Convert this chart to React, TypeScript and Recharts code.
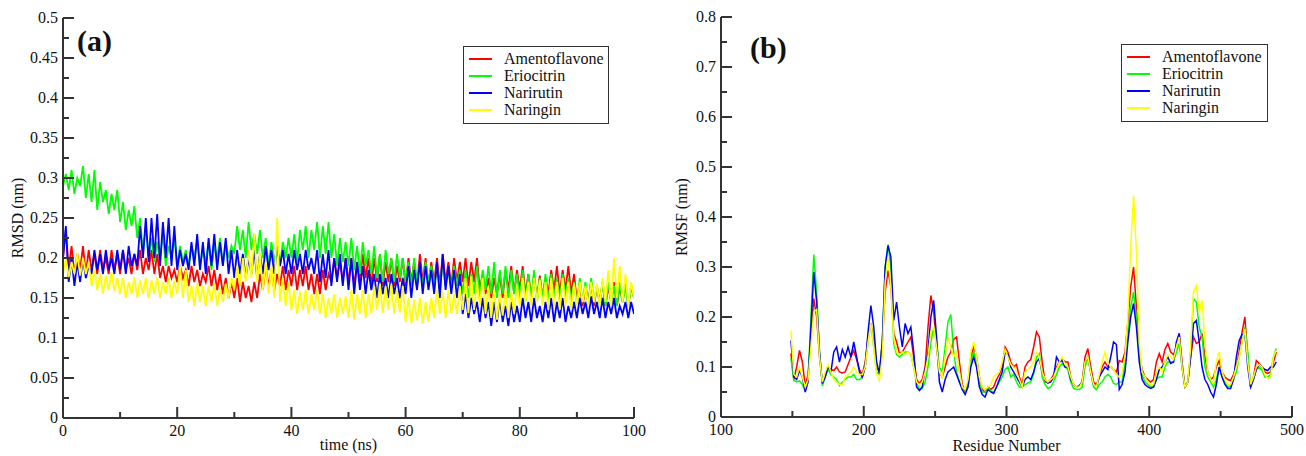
import React from 'react';
import { LineChart, Line, XAxis, YAxis, Legend, Label } from 'recharts';

const FONT = '"Liberation Serif", "Times New Roman", serif';
const AXIS = '#333';
const TEXT = '#111';

const seriesNames = ['Amentoflavone', 'Eriocitrin', 'Narirutin', 'Naringin'];
const seriesColors = ['#ff0000', '#00ff00', '#0000ff', '#ffff00'];
const seriesKeys = ['amento', 'erio', 'nari', 'naring'];

// ---------- Panel (a): RMSD vs time ----------
const timeNs = [
  0, 0.5, 1, 1.5, 2, 2.5, 3, 3.5, 4, 4.5,
  5, 5.5, 6, 6.5, 7, 7.5, 8, 8.5, 9, 9.5,
  10, 10.5, 11, 11.5, 12, 12.5, 13, 13.5, 14, 14.5,
  15, 15.5, 16, 16.5, 17, 17.5, 18, 18.5, 19, 19.5,
  20, 20.5, 21, 21.5, 22, 22.5, 23, 23.5, 24, 24.5,
  25, 25.5, 26, 26.5, 27, 27.5, 28, 28.5, 29, 29.5,
  30, 30.5, 31, 31.5, 32, 32.5, 33, 33.5, 34, 34.5,
  35, 35.5, 36, 36.5, 37, 37.5, 38, 38.5, 39, 39.5,
  40, 40.5, 41, 41.5, 42, 42.5, 43, 43.5, 44, 44.5,
  45, 45.5, 46, 46.5, 47, 47.5, 48, 48.5, 49, 49.5,
  50, 50.5, 51, 51.5, 52, 52.5, 53, 53.5, 54, 54.5,
  55, 55.5, 56, 56.5, 57, 57.5, 58, 58.5, 59, 59.5,
  60, 60.5, 61, 61.5, 62, 62.5, 63, 63.5, 64, 64.5,
  65, 65.5, 66, 66.5, 67, 67.5, 68, 68.5, 69, 69.5,
  70, 70.5, 71, 71.5, 72, 72.5, 73, 73.5, 74, 74.5,
  75, 75.5, 76, 76.5, 77, 77.5, 78, 78.5, 79, 79.5,
  80, 80.5, 81, 81.5, 82, 82.5, 83, 83.5, 84, 84.5,
  85, 85.5, 86, 86.5, 87, 87.5, 88, 88.5, 89, 89.5,
  90, 90.5, 91, 91.5, 92, 92.5, 93, 93.5, 94, 94.5,
  95, 95.5, 96, 96.5, 97, 97.5, 98, 98.5, 99, 99.5,
  100,
];

const rmsdAmentoflavone = [
  0.2, 0.235, 0.185, 0.215, 0.18, 0.205, 0.185, 0.215, 0.18, 0.21,
  0.185, 0.205, 0.18, 0.21, 0.185, 0.2, 0.18, 0.21, 0.185, 0.205,
  0.18, 0.21, 0.185, 0.2, 0.18, 0.205, 0.185, 0.21, 0.18, 0.2,
  0.185, 0.21, 0.18, 0.205, 0.175, 0.19, 0.17, 0.19, 0.175, 0.185,
  0.17, 0.19, 0.175, 0.185, 0.165, 0.19, 0.17, 0.185, 0.165, 0.18,
  0.17, 0.19, 0.165, 0.185, 0.16, 0.18, 0.155, 0.175, 0.15, 0.17,
  0.15, 0.175, 0.145, 0.17, 0.15, 0.165, 0.145, 0.17, 0.15, 0.18,
  0.16, 0.19, 0.165, 0.185, 0.16, 0.18, 0.165, 0.19, 0.16, 0.185,
  0.165, 0.19, 0.16, 0.185, 0.165, 0.19, 0.16, 0.18, 0.155, 0.18,
  0.155, 0.185, 0.16, 0.18, 0.17, 0.2, 0.175, 0.195, 0.17, 0.2,
  0.17, 0.2, 0.165, 0.195, 0.17, 0.205, 0.175, 0.2, 0.165, 0.2,
  0.17, 0.205, 0.165, 0.195, 0.17, 0.2, 0.165, 0.19, 0.17, 0.2,
  0.165, 0.2, 0.17, 0.195, 0.165, 0.205, 0.17, 0.2, 0.165, 0.195,
  0.17, 0.2, 0.165, 0.205, 0.17, 0.195, 0.165, 0.2, 0.17, 0.195,
  0.17, 0.2, 0.165, 0.195, 0.17, 0.2, 0.16, 0.18, 0.155, 0.175,
  0.15, 0.175, 0.155, 0.18, 0.15, 0.185, 0.16, 0.19, 0.155, 0.185,
  0.16, 0.19, 0.155, 0.18, 0.15, 0.175, 0.148, 0.178, 0.15, 0.175,
  0.155, 0.185, 0.16, 0.19, 0.155, 0.185, 0.16, 0.19, 0.155, 0.18,
  0.145, 0.17, 0.14, 0.165, 0.145, 0.17, 0.14, 0.165, 0.145, 0.17,
  0.14, 0.165, 0.145, 0.17, 0.14, 0.165, 0.145, 0.17, 0.14, 0.165,
  0.15,
];

const rmsdEriocitrin = [
  0.29, 0.305, 0.285, 0.31, 0.28, 0.3, 0.29, 0.315, 0.275, 0.305,
  0.27, 0.31, 0.26, 0.295, 0.27, 0.285, 0.255, 0.28, 0.26, 0.285,
  0.245, 0.27, 0.235, 0.26, 0.24, 0.265, 0.225, 0.25, 0.205, 0.24,
  0.2, 0.225, 0.195, 0.22, 0.2, 0.23, 0.19, 0.215, 0.2, 0.225,
  0.19, 0.215, 0.195, 0.21, 0.19, 0.215, 0.2, 0.22, 0.19, 0.21,
  0.195, 0.22, 0.185, 0.215, 0.2, 0.225, 0.19, 0.22, 0.2, 0.215,
  0.205, 0.24, 0.21, 0.235, 0.2, 0.245, 0.21, 0.23, 0.205, 0.235,
  0.2, 0.225, 0.19, 0.22, 0.195, 0.215, 0.19, 0.22, 0.2, 0.225,
  0.2, 0.23, 0.195, 0.235, 0.21, 0.24, 0.2, 0.235, 0.21, 0.245,
  0.2, 0.24, 0.205, 0.245, 0.2, 0.23, 0.19, 0.225, 0.195, 0.22,
  0.19, 0.225, 0.185, 0.215, 0.18, 0.22, 0.19, 0.21, 0.18, 0.215,
  0.175, 0.205, 0.17, 0.21, 0.18, 0.2, 0.17, 0.205, 0.175, 0.2,
  0.17, 0.195, 0.165, 0.2, 0.17, 0.19, 0.165, 0.195, 0.17, 0.19,
  0.165, 0.19, 0.16, 0.195, 0.165, 0.185, 0.16, 0.19, 0.165, 0.185,
  0.155, 0.185, 0.15, 0.18, 0.155, 0.19, 0.15, 0.185, 0.16, 0.19,
  0.155, 0.195, 0.15, 0.185, 0.155, 0.19, 0.15, 0.185, 0.155, 0.18,
  0.15, 0.185, 0.145, 0.18, 0.15, 0.185, 0.145, 0.175, 0.15, 0.18,
  0.145, 0.18, 0.15, 0.175, 0.145, 0.18, 0.15, 0.175, 0.145, 0.17,
  0.14, 0.175, 0.145, 0.17, 0.14, 0.175, 0.145, 0.165, 0.14, 0.17,
  0.14, 0.17, 0.145, 0.165, 0.14, 0.17, 0.145, 0.165, 0.14, 0.165,
  0.15,
];

const rmsdNarirutin = [
  0.2, 0.24, 0.17, 0.2, 0.165, 0.195, 0.17, 0.2, 0.175, 0.19,
  0.18, 0.21, 0.185, 0.205, 0.18, 0.21, 0.185, 0.2, 0.18, 0.21,
  0.185, 0.21, 0.18, 0.215, 0.19, 0.205, 0.19, 0.24, 0.2, 0.25,
  0.195, 0.25, 0.2, 0.255, 0.19, 0.245, 0.2, 0.25, 0.19, 0.24,
  0.185, 0.21, 0.19, 0.205, 0.185, 0.22, 0.19, 0.23, 0.185, 0.22,
  0.18, 0.225, 0.19, 0.23, 0.185, 0.22, 0.19, 0.225, 0.18, 0.21,
  0.175, 0.21, 0.18, 0.205, 0.175, 0.2, 0.18, 0.21, 0.175, 0.205,
  0.18, 0.215, 0.185, 0.21, 0.18, 0.215, 0.19, 0.21, 0.18, 0.205,
  0.18, 0.21, 0.185, 0.205, 0.18, 0.21, 0.185, 0.2, 0.18, 0.21,
  0.17, 0.205, 0.175, 0.21, 0.165, 0.2, 0.17, 0.205, 0.165, 0.2,
  0.16, 0.2, 0.155, 0.195, 0.16, 0.19, 0.155, 0.185, 0.16, 0.18,
  0.15, 0.18, 0.155, 0.175, 0.15, 0.18, 0.155, 0.175, 0.15, 0.175,
  0.155, 0.19, 0.15, 0.185, 0.16, 0.195, 0.155, 0.19, 0.16, 0.185,
  0.155, 0.195, 0.15, 0.205, 0.16, 0.19, 0.155, 0.185, 0.15, 0.18,
  0.13, 0.155, 0.125, 0.15, 0.13, 0.145, 0.12, 0.15, 0.125, 0.145,
  0.115, 0.145, 0.12, 0.15, 0.12, 0.14, 0.115, 0.145, 0.12, 0.14,
  0.12, 0.15, 0.125, 0.145, 0.12, 0.15, 0.125, 0.14, 0.12, 0.145,
  0.125, 0.15, 0.12, 0.145, 0.125, 0.15, 0.12, 0.14, 0.125, 0.145,
  0.125, 0.15, 0.13, 0.145, 0.125, 0.152, 0.13, 0.145, 0.125, 0.15,
  0.125, 0.145, 0.13, 0.15, 0.125, 0.14, 0.13, 0.145, 0.125, 0.145,
  0.13,
];

const rmsdNaringin = [
  0.18, 0.2, 0.176, 0.195, 0.18, 0.205, 0.178, 0.2, 0.18, 0.195,
  0.165, 0.185, 0.16, 0.18, 0.156, 0.178, 0.16, 0.182, 0.158, 0.175,
  0.155, 0.175, 0.15, 0.17, 0.155, 0.176, 0.15, 0.172, 0.155, 0.175,
  0.15, 0.172, 0.155, 0.176, 0.15, 0.17, 0.155, 0.175, 0.15, 0.172,
  0.155, 0.19, 0.15, 0.185, 0.145, 0.165, 0.14, 0.168, 0.145, 0.165,
  0.14, 0.165, 0.145, 0.168, 0.14, 0.162, 0.145, 0.168, 0.15, 0.175,
  0.16, 0.19, 0.165, 0.2, 0.17, 0.21, 0.175, 0.23, 0.17, 0.205,
  0.16, 0.195, 0.155, 0.19, 0.15, 0.25, 0.145, 0.175, 0.14, 0.17,
  0.135, 0.16, 0.13, 0.158, 0.135, 0.16, 0.13, 0.155, 0.135, 0.16,
  0.13, 0.155, 0.125, 0.15, 0.13, 0.155, 0.125, 0.15, 0.13, 0.152,
  0.125, 0.16, 0.123, 0.155, 0.13, 0.16, 0.125, 0.155, 0.13, 0.165,
  0.135, 0.168, 0.131, 0.165, 0.135, 0.168, 0.13, 0.16, 0.132, 0.165,
  0.12, 0.15, 0.118, 0.148, 0.122, 0.15, 0.118, 0.145, 0.12, 0.15,
  0.125, 0.16, 0.13, 0.158, 0.125, 0.16, 0.13, 0.155, 0.13, 0.165,
  0.135, 0.175, 0.131, 0.177, 0.135, 0.17, 0.14, 0.175, 0.13, 0.165,
  0.125, 0.16, 0.123, 0.155, 0.128, 0.16, 0.125, 0.158, 0.13, 0.165,
  0.14, 0.175, 0.145, 0.17, 0.14, 0.175, 0.145, 0.172, 0.14, 0.17,
  0.135, 0.175, 0.14, 0.17, 0.135, 0.175, 0.14, 0.17, 0.135, 0.168,
  0.14, 0.17, 0.145, 0.165, 0.14, 0.17, 0.145, 0.168, 0.14, 0.175,
  0.145, 0.185, 0.14, 0.2, 0.15, 0.19, 0.145, 0.18, 0.14, 0.17,
  0.15,
];

// ---------- Panel (b): RMSF vs residue ----------
const residueNumber = [
  149, 151, 153, 155, 157, 159, 161, 163, 165, 167,
  169, 171, 173, 175, 177, 179, 181, 183, 185, 187,
  189, 191, 193, 195, 197, 199, 201, 203, 205, 207,
  209, 211, 213, 215, 217, 219, 221, 223, 225, 227,
  229, 231, 233, 235, 237, 239, 241, 243, 245, 247,
  249, 251, 253, 255, 257, 259, 261, 263, 265, 267,
  269, 271, 273, 275, 277, 279, 281, 283, 285, 287,
  289, 291, 293, 295, 297, 299, 301, 303, 305, 307,
  309, 311, 313, 315, 317, 319, 321, 323, 325, 327,
  329, 331, 333, 335, 337, 339, 341, 343, 345, 347,
  349, 351, 353, 355, 357, 359, 361, 363, 365, 367,
  369, 371, 373, 375, 377, 379, 381, 383, 385, 387,
  389, 391, 393, 395, 397, 399, 401, 403, 405, 407,
  409, 411, 413, 415, 417, 419, 421, 423, 425, 427,
  429, 431, 433, 435, 437, 439, 441, 443, 445, 447,
  449, 451, 453, 455, 457, 459, 461, 463, 465, 467,
  469, 471, 473, 475, 477, 479, 481, 483, 485, 487,
  489,
];

const rmsfAmentoflavone = [
  0.127, 0.075, 0.1, 0.133, 0.11, 0.062, 0.085, 0.16, 0.237, 0.2,
  0.12, 0.068, 0.085, 0.1, 0.095, 0.093, 0.1, 0.09, 0.088, 0.09,
  0.105, 0.12, 0.133, 0.115, 0.095, 0.085, 0.11, 0.16, 0.187, 0.15,
  0.1, 0.09, 0.15, 0.25, 0.293, 0.26, 0.167, 0.15, 0.127, 0.13,
  0.14, 0.15, 0.16, 0.12, 0.075, 0.067, 0.075, 0.1, 0.18, 0.243,
  0.21, 0.14, 0.09, 0.08, 0.1, 0.12, 0.13, 0.155, 0.16, 0.11,
  0.065, 0.05, 0.07, 0.12, 0.14, 0.12, 0.08, 0.055, 0.05, 0.06,
  0.055, 0.06, 0.075, 0.085, 0.1, 0.14, 0.13, 0.11, 0.1, 0.105,
  0.08, 0.065, 0.1, 0.11, 0.115, 0.14, 0.17, 0.16, 0.11, 0.07,
  0.07, 0.075, 0.085, 0.1, 0.11, 0.117, 0.11, 0.11, 0.08, 0.065,
  0.06, 0.062, 0.07, 0.12, 0.137, 0.1, 0.07, 0.065, 0.08, 0.1,
  0.11, 0.1, 0.1, 0.095, 0.09, 0.113, 0.11, 0.13, 0.19, 0.26,
  0.3, 0.22, 0.13, 0.095, 0.08, 0.075, 0.07, 0.075, 0.11, 0.127,
  0.11, 0.135, 0.147, 0.13, 0.125, 0.14, 0.167, 0.11, 0.06, 0.07,
  0.12, 0.16, 0.147, 0.15, 0.167, 0.12, 0.09, 0.075, 0.08, 0.1,
  0.113, 0.09, 0.08, 0.075, 0.073, 0.085, 0.1, 0.13, 0.17, 0.2,
  0.12, 0.06, 0.08, 0.113, 0.107, 0.1, 0.09, 0.087, 0.09, 0.11,
  0.13,
];

const rmsfEriocitrin = [
  0.117, 0.073, 0.07, 0.072, 0.065, 0.053, 0.075, 0.2, 0.325, 0.25,
  0.13, 0.062, 0.08, 0.095, 0.085, 0.08, 0.075, 0.063, 0.07, 0.075,
  0.08, 0.08, 0.085, 0.075, 0.075, 0.08, 0.1, 0.15, 0.185, 0.14,
  0.09, 0.085, 0.15, 0.3, 0.345, 0.3, 0.147, 0.125, 0.12, 0.125,
  0.13, 0.13, 0.125, 0.1, 0.07, 0.055, 0.057, 0.07, 0.1, 0.15,
  0.18, 0.15, 0.1, 0.09, 0.14, 0.19, 0.205, 0.13, 0.09, 0.07,
  0.055, 0.05, 0.06, 0.11, 0.13, 0.11, 0.07, 0.05, 0.05, 0.06,
  0.052, 0.05, 0.06, 0.07, 0.08, 0.095, 0.1, 0.08, 0.085, 0.07,
  0.06, 0.06, 0.065, 0.068, 0.07, 0.085, 0.12, 0.127, 0.08, 0.065,
  0.057, 0.06, 0.07, 0.085, 0.1, 0.107, 0.1, 0.095, 0.07, 0.057,
  0.055, 0.055, 0.06, 0.1, 0.12, 0.09, 0.06, 0.055, 0.065, 0.07,
  0.08, 0.085, 0.08, 0.067, 0.065, 0.07, 0.07, 0.11, 0.16, 0.22,
  0.25, 0.2, 0.12, 0.085, 0.07, 0.065, 0.06, 0.06, 0.075, 0.08,
  0.08, 0.1, 0.11, 0.11, 0.11, 0.13, 0.147, 0.1, 0.06, 0.07,
  0.13, 0.237, 0.23, 0.18, 0.16, 0.1, 0.08, 0.07, 0.06, 0.075,
  0.1, 0.08, 0.07, 0.06, 0.062, 0.075, 0.09, 0.12, 0.15, 0.18,
  0.13, 0.06, 0.075, 0.095, 0.1, 0.093, 0.08, 0.08, 0.085, 0.12,
  0.137,
];

const rmsfNarirutin = [
  0.153, 0.08, 0.075, 0.093, 0.08, 0.05, 0.07, 0.18, 0.29, 0.23,
  0.13, 0.067, 0.08, 0.1, 0.09, 0.13, 0.14, 0.11, 0.135, 0.12,
  0.14, 0.12, 0.15, 0.12, 0.09, 0.08, 0.1, 0.17, 0.223, 0.18,
  0.11, 0.087, 0.15, 0.3, 0.343, 0.32, 0.193, 0.23, 0.18, 0.14,
  0.187, 0.167, 0.18, 0.13, 0.06, 0.053, 0.06, 0.095, 0.13, 0.2,
  0.233, 0.16, 0.07, 0.05, 0.075, 0.09, 0.095, 0.1, 0.085, 0.07,
  0.055, 0.045, 0.06, 0.1, 0.12, 0.1, 0.06, 0.045, 0.04, 0.055,
  0.05, 0.047, 0.06, 0.075, 0.09, 0.13, 0.125, 0.1, 0.09, 0.08,
  0.07, 0.06, 0.075, 0.08, 0.075, 0.09, 0.11, 0.117, 0.09, 0.075,
  0.068, 0.07, 0.08, 0.12, 0.11, 0.113, 0.1, 0.1, 0.075, 0.065,
  0.06, 0.062, 0.07, 0.11, 0.12, 0.09, 0.065, 0.06, 0.08, 0.09,
  0.1, 0.095, 0.12, 0.15, 0.145, 0.055, 0.065, 0.09, 0.15, 0.2,
  0.227, 0.18, 0.11, 0.075, 0.065, 0.06, 0.057, 0.06, 0.075, 0.095,
  0.1, 0.11, 0.12, 0.107, 0.11, 0.15, 0.167, 0.1, 0.06, 0.07,
  0.12, 0.187, 0.193, 0.15, 0.1, 0.075, 0.065, 0.05, 0.04, 0.065,
  0.1, 0.08, 0.065, 0.057, 0.057, 0.075, 0.12, 0.153, 0.165, 0.167,
  0.1, 0.06, 0.075, 0.095, 0.105, 0.1, 0.095, 0.093, 0.1, 0.1,
  0.11,
];

const rmsfNaringin = [
  0.173, 0.085, 0.08, 0.1, 0.08, 0.06, 0.075, 0.14, 0.21, 0.215,
  0.12, 0.07, 0.09, 0.105, 0.09, 0.075, 0.07, 0.065, 0.065, 0.08,
  0.085, 0.09, 0.1, 0.09, 0.085, 0.085, 0.1, 0.15, 0.187, 0.14,
  0.085, 0.073, 0.12, 0.27, 0.32, 0.26, 0.16, 0.13, 0.125, 0.13,
  0.125, 0.13, 0.125, 0.1, 0.07, 0.065, 0.07, 0.09, 0.12, 0.17,
  0.18, 0.14, 0.09, 0.08, 0.12, 0.16, 0.14, 0.12, 0.13, 0.09,
  0.06, 0.055, 0.075, 0.13, 0.15, 0.12, 0.08, 0.06, 0.055, 0.06,
  0.065, 0.08, 0.085, 0.09, 0.11, 0.135, 0.12, 0.105, 0.1, 0.09,
  0.075, 0.06, 0.09, 0.095, 0.1, 0.11, 0.13, 0.12, 0.09, 0.075,
  0.07, 0.075, 0.08, 0.095, 0.11, 0.12, 0.105, 0.1, 0.08, 0.065,
  0.06, 0.06, 0.07, 0.11, 0.12, 0.09, 0.065, 0.06, 0.085, 0.11,
  0.13, 0.11, 0.1, 0.095, 0.085, 0.08, 0.09, 0.12, 0.2, 0.34,
  0.443, 0.33, 0.15, 0.09, 0.08, 0.07, 0.065, 0.065, 0.09, 0.1,
  0.09, 0.11, 0.125, 0.12, 0.115, 0.14, 0.16, 0.1, 0.06, 0.07,
  0.14, 0.25, 0.263, 0.21, 0.233, 0.15, 0.09, 0.075, 0.067, 0.11,
  0.13, 0.09, 0.075, 0.065, 0.065, 0.08, 0.1, 0.12, 0.15, 0.175,
  0.11, 0.065, 0.08, 0.1, 0.105, 0.1, 0.085, 0.077, 0.08, 0.12,
  0.133,
];

// ---------- Ticks ----------
const rmsdXTicks = [0, 10, 20, 30, 40, 50, 60, 70, 80, 90, 100];
const rmsdXMajor = [0, 20, 40, 60, 80, 100];
const rmsdYTicks = [0, 0.025, 0.05, 0.075, 0.1, 0.125, 0.15, 0.175, 0.2, 0.225, 0.25, 0.275, 0.3, 0.325, 0.35, 0.375, 0.4, 0.425, 0.45, 0.475, 0.5];
const rmsdYMajor = [0, 0.05, 0.1, 0.15, 0.2, 0.25, 0.3, 0.35, 0.4, 0.45, 0.5];
const rmsfXTicks = [100, 150, 200, 250, 300, 350, 400, 450, 500];
const rmsfXMajor = [100, 200, 300, 400, 500];
const rmsfYTicks = [0, 0.05, 0.1, 0.15, 0.2, 0.25, 0.3, 0.35, 0.4, 0.45, 0.5, 0.55, 0.6, 0.65, 0.7, 0.75, 0.8];
const rmsfYMajor = [0, 0.1, 0.2, 0.3, 0.4, 0.5, 0.6, 0.7, 0.8];

const rmsdRows = timeNs.map((t, i) => ({
  x: t,
  amento: rmsdAmentoflavone[i],
  erio: rmsdEriocitrin[i],
  nari: rmsdNarirutin[i],
  naring: rmsdNaringin[i],
}));

const rmsfRows = residueNumber.map((r, i) => ({
  x: r,
  amento: rmsfAmentoflavone[i],
  erio: rmsfEriocitrin[i],
  nari: rmsfNarirutin[i],
  naring: rmsfNaringin[i],
}));

const isMajor = (v: number, majors: number[]) => majors.some((m) => Math.abs(m - v) < 1e-9);

function makeTick(side: 'bottom' | 'top' | 'left' | 'right', majors: number[], showLabel: boolean) {
  return (props: any) => {
    const { x, y, payload } = props;
    const v = payload.value as number;
    const major = isMajor(v, majors);
    const len = major ? 11 : 6;
    let x2 = x;
    let y2 = y;
    if (side === 'bottom') y2 = y - len;
    if (side === 'top') y2 = y + len;
    if (side === 'left') x2 = x + len;
    if (side === 'right') x2 = x - len;
    let label = null;
    if (showLabel && major) {
      if (side === 'bottom') {
        label = (
          <text x={x} y={y + 18} textAnchor="middle" fontFamily={FONT} fontSize={16} fill={TEXT}>
            {String(v)}
          </text>
        );
      } else if (side === 'left') {
        label = (
          <text x={x - 5} y={y + 5} textAnchor="end" fontFamily={FONT} fontSize={16} fill={TEXT}>
            {String(v)}
          </text>
        );
      }
    }
    return (
      <g>
        <line x1={x} y1={y} x2={x2} y2={y2} stroke={AXIS} strokeWidth={2} />
        {label}
      </g>
    );
  };
}

function LegendBox() {
  return (
    <div
      style={{
        width: '100%',
        height: '100%',
        boxSizing: 'border-box',
        border: `1.5px solid ${AXIS}`,
        background: '#fff',
        paddingTop: 3,
        fontFamily: FONT,
        fontSize: 16,
        color: TEXT,
      }}
    >
      {seriesNames.map((n, i) => (
        <div key={n} style={{ display: 'flex', alignItems: 'center', height: 17, lineHeight: '17px' }}>
          <div style={{ marginLeft: 5, width: 23, height: 2, background: seriesColors[i] }} />
          <span style={{ marginLeft: 12, whiteSpace: 'nowrap' }}>{n}</span>
        </div>
      ))}
    </div>
  );
}

type PanelProps = {
  width: number;
  height: number;
  margin: { top: number; right: number; bottom: number; left: number };
  rows: any[];
  xDomain: [number, number];
  xTicks: number[];
  xMajor: number[];
  yDomain: [number, number];
  yTicks: number[];
  yMajor: number[];
  xTitle: string;
  xTitleDy: number;
  yTitle: string;
  yTitleDx: number;
  strokeWidth: number;
  legend: { left: number; top: number; width: number; height: number };
};

function Panel(p: PanelProps) {
  const axisLine = { stroke: AXIS, strokeWidth: 2 };
  return (
    <LineChart width={p.width} height={p.height} data={p.rows} margin={p.margin}>
      <XAxis
        xAxisId="b"
        dataKey="x"
        type="number"
        domain={p.xDomain}
        ticks={p.xTicks}
        interval={0}
        height={30}
        tickSize={0}
        tickMargin={0}
        axisLine={axisLine}
        tickLine={false}
        tick={makeTick('bottom', p.xMajor, true)}
        allowDataOverflow
      >
        <Label
          content={(lp: any) => {
            const vb = lp.viewBox || {};
            return (
              <text
                x={vb.x + vb.width / 2}
                y={vb.y + p.xTitleDy}
                textAnchor="middle"
                fontFamily={FONT}
                fontSize={16}
                fill={TEXT}
              >
                {p.xTitle}
              </text>
            );
          }}
        />
      </XAxis>
      <XAxis
        xAxisId="t"
        orientation="top"
        dataKey="x"
        type="number"
        domain={p.xDomain}
        ticks={p.xTicks}
        interval={0}
        height={0}
        tickSize={0}
        tickMargin={0}
        axisLine={axisLine}
        tickLine={false}
        tick={makeTick('top', p.xMajor, false)}
        allowDataOverflow
      />
      <YAxis
        yAxisId="l"
        type="number"
        domain={p.yDomain}
        ticks={p.yTicks}
        interval={0}
        width={50}
        tickSize={0}
        tickMargin={0}
        axisLine={axisLine}
        tickLine={false}
        tick={makeTick('left', p.yMajor, true)}
        allowDataOverflow
      >
        <Label
          content={(lp: any) => {
            const vb = lp.viewBox || {};
            const x = vb.x + p.yTitleDx;
            const y = vb.y + vb.height / 2;
            return (
              <text
                x={x}
                y={y}
                transform={`rotate(-90 ${x} ${y})`}
                textAnchor="middle"
                fontFamily={FONT}
                fontSize={16}
                fill={TEXT}
              >
                {p.yTitle}
              </text>
            );
          }}
        />
      </YAxis>
      <YAxis
        yAxisId="r"
        orientation="right"
        type="number"
        domain={p.yDomain}
        ticks={p.yTicks}
        interval={0}
        width={0}
        tickSize={0}
        tickMargin={0}
        axisLine={axisLine}
        tickLine={false}
        tick={makeTick('right', p.yMajor, false)}
        allowDataOverflow
      />
      {seriesKeys.map((k, i) => (
        <Line
          key={k}
          xAxisId="b"
          yAxisId="l"
          dataKey={k}
          name={seriesNames[i]}
          stroke={seriesColors[i]}
          strokeWidth={p.strokeWidth}
          strokeLinejoin="miter"
          dot={false}
          activeDot={false}
          type="linear"
          isAnimationActive={false}
        />
      ))}
      <Legend
        layout="vertical"
        align="center"
        verticalAlign="middle"
        wrapperStyle={{ left: p.legend.left, top: p.legend.top, width: p.legend.width, height: p.legend.height }}
        content={() => <LegendBox />}
      />
    </LineChart>
  );
}

export default function App() {
  return (
    <div style={{ position: 'absolute', left: 0, top: 0, width: 1306, height: 456, background: '#fff' }}>
      <div style={{ position: 'absolute', left: 0, top: 0 }}>
        <Panel
          width={650}
          height={456}
          margin={{ top: 18, right: 16, bottom: 8, left: 13 }}
          rows={rmsdRows}
          xDomain={[0, 100]}
          xTicks={rmsdXTicks}
          xMajor={rmsdXMajor}
          yDomain={[0, 0.5]}
          yTicks={rmsdYTicks}
          yMajor={rmsdYMajor}
          xTitle="time (ns)"
          xTitleDy={32}
          yTitle="RMSD (nm)"
          yTitleDx={10}
          strokeWidth={1.8}
          legend={{ left: 463, top: 46, width: 146, height: 78 }}
        />
      </div>
      <div style={{ position: 'absolute', left: 650, top: 0 }}>
        <Panel
          width={656}
          height={456}
          margin={{ top: 17, right: 14, bottom: 9, left: 21 }}
          rows={rmsfRows}
          xDomain={[100, 500]}
          xTicks={rmsfXTicks}
          xMajor={rmsfXMajor}
          yDomain={[0, 0.8]}
          yTicks={rmsfYTicks}
          yMajor={rmsfYMajor}
          xTitle="Residue Number"
          xTitleDy={34}
          yTitle="RMSF (nm)"
          yTitleDx={16}
          strokeWidth={1.5}
          legend={{ left: 471, top: 44, width: 147, height: 78 }}
        />
      </div>
      <svg
        width={1306}
        height={456}
        style={{ position: 'absolute', left: 0, top: 0, pointerEvents: 'none' }}
      >
        <text x={77} y={51} fontFamily={FONT} fontWeight="bold" fontSize={30} fill={TEXT}>
          (a)
        </text>
        <text x={750} y={58} fontFamily={FONT} fontWeight="bold" fontSize={30} fill={TEXT}>
          (b)
        </text>
      </svg>
    </div>
  );
}
